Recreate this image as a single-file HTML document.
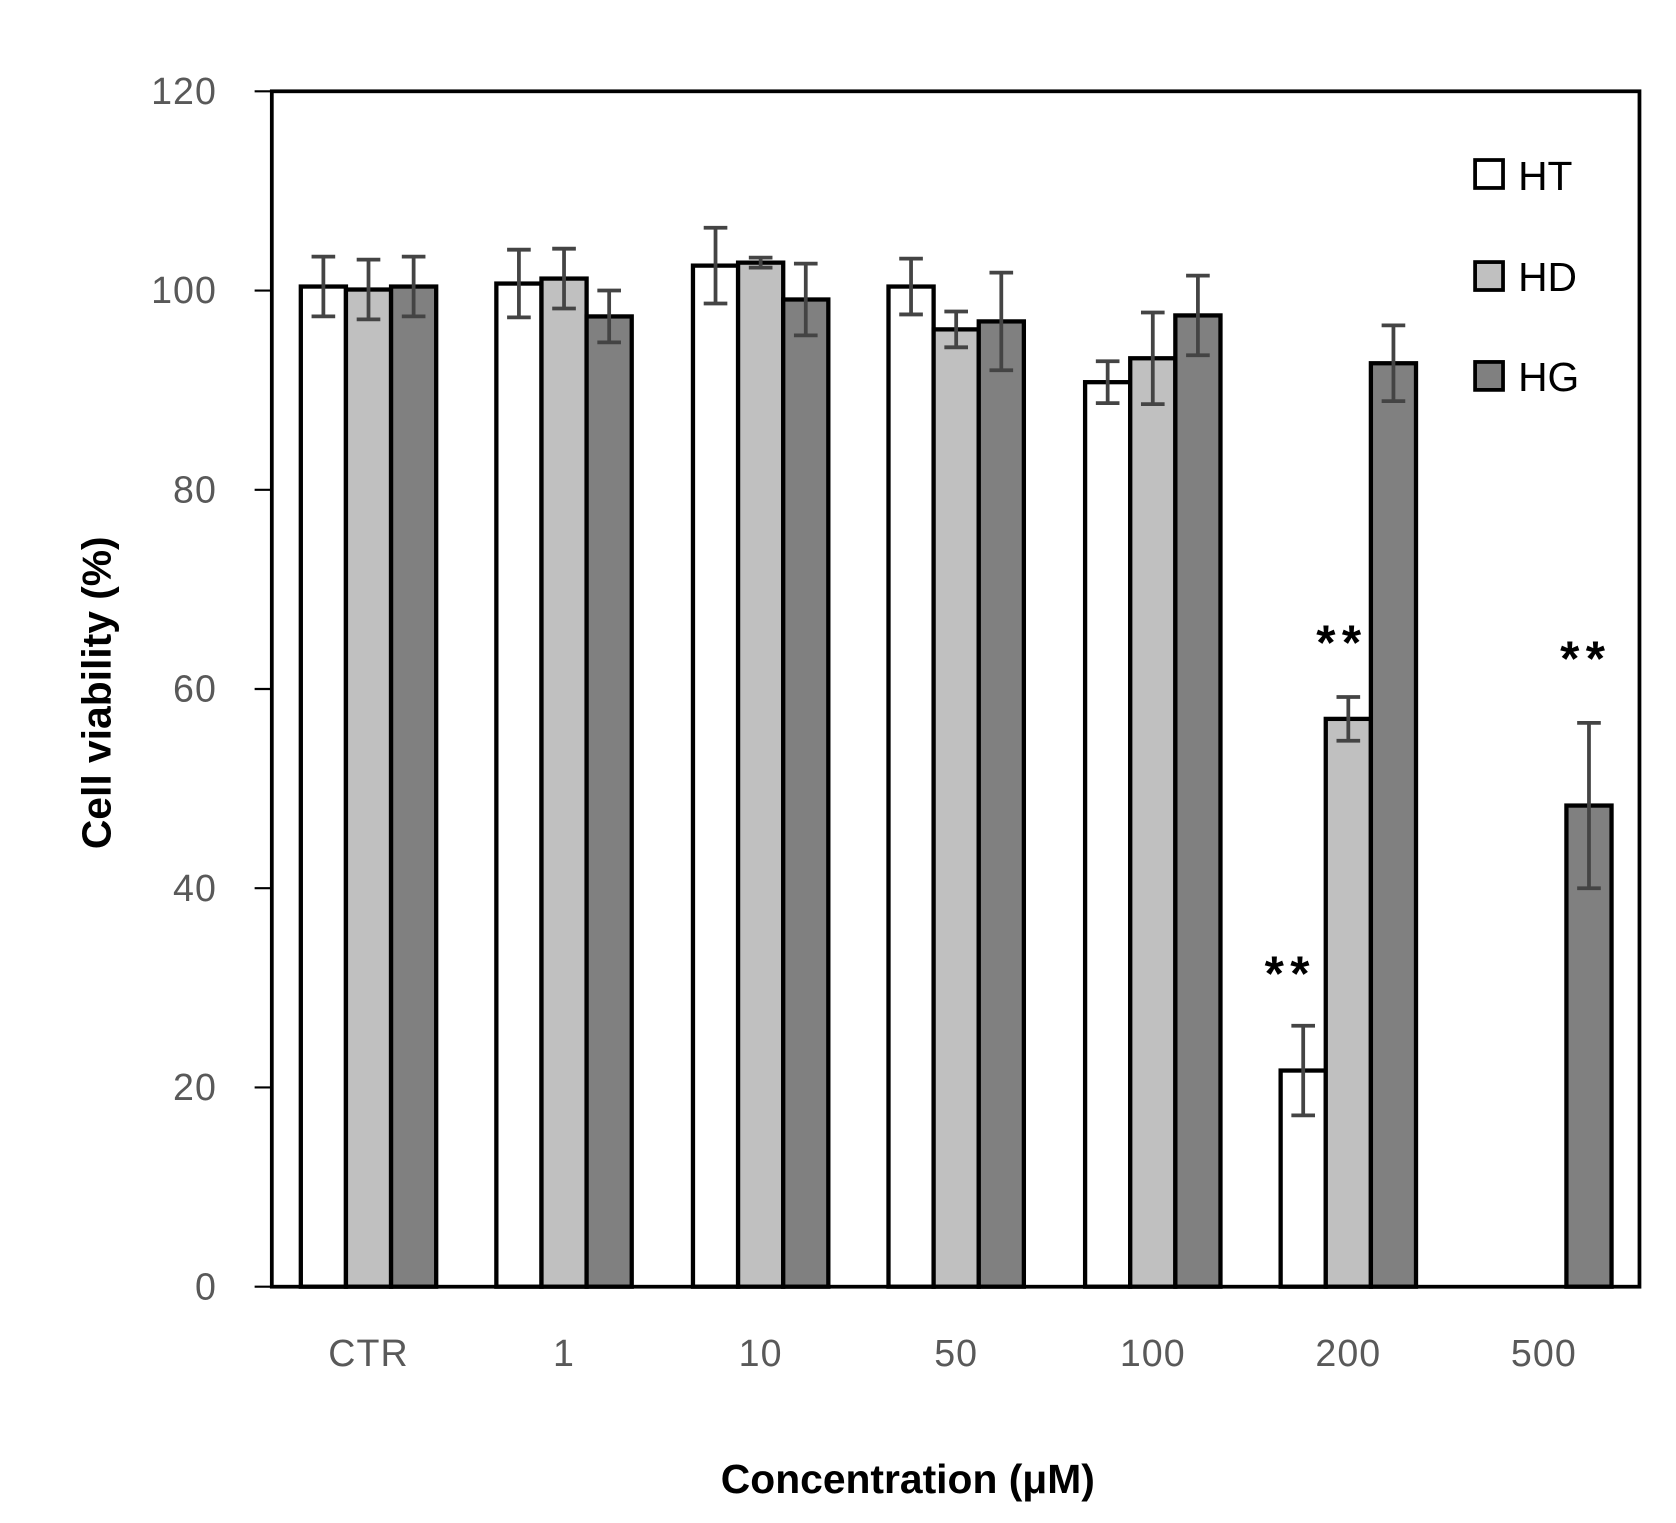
<!DOCTYPE html>
<html><head><meta charset="utf-8"><style>html,body{margin:0;padding:0;background:#fff}svg{display:block}</style></head>
<body>
<svg width="1676" height="1523" viewBox="0 0 1560 1418" preserveAspectRatio="none" xmlns="http://www.w3.org/2000/svg" font-family="Liberation Sans, sans-serif">
<rect width="1560" height="1418" fill="#fff"/>
<g id="bars" stroke="#000" stroke-width="4"></g>
<g id="errs" stroke="#444" stroke-width="3.5" fill="none"></g>
<rect x="253" y="85" width="1273" height="1113" fill="none" stroke="#000" stroke-width="3.5"/>
<g stroke="#000" stroke-width="2">
<line x1="237" y1="85" x2="253" y2="85"/><line x1="237" y1="270.5" x2="253" y2="270.5"/><line x1="237" y1="456" x2="253" y2="456"/><line x1="237" y1="641.5" x2="253" y2="641.5"/><line x1="237" y1="827" x2="253" y2="827"/><line x1="237" y1="1012.5" x2="253" y2="1012.5"/><line x1="237" y1="1198" x2="253" y2="1198"/>
</g>
<g fill="#595959" font-size="35" text-anchor="end" letter-spacing="1">
<text x="202" y="97">120</text><text x="202" y="282">100</text><text x="202" y="468">80</text><text x="202" y="653">60</text><text x="202" y="839">40</text><text x="202" y="1024">20</text><text x="202" y="1210">0</text>
</g>
<g fill="#595959" font-size="35" text-anchor="middle" letter-spacing="1">
<text x="343" y="1272">CTR</text><text x="525" y="1272">1</text><text x="708" y="1272">10</text><text x="890" y="1272">50</text><text x="1073" y="1272">100</text><text x="1255" y="1272">200</text><text x="1437" y="1272">500</text>
</g>
<text x="845" y="1390" font-size="38" font-weight="bold" text-anchor="middle">Concentration (μM)</text>
<text transform="translate(103,645) rotate(-90)" font-size="38" font-weight="bold" text-anchor="middle">Cell viability (%)</text>
<g font-size="46" font-weight="bold" text-anchor="middle" letter-spacing="6"><text x="1201" y="922">**</text><text x="1249" y="614">**</text><text x="1476" y="629">**</text></g>
<g stroke="#000" stroke-width="3.5">
<rect x="1373" y="149" width="26" height="26" fill="#fff"/><rect x="1373" y="244" width="26" height="26" fill="#c0c0c0"/><rect x="1373" y="337" width="26" height="26" fill="#808080"/>
</g>
<g font-size="38" fill="#000"><text x="1413" y="177">HT</text><text x="1413" y="271">HD</text><text x="1413" y="364">HG</text></g>
<script>
var data=[[100.4,3,100.1,3,100.4,3],[100.7,3.4,101.2,3,97.4,2.6],[102.5,3.8,102.8,0.5,99.1,3.6],[100.4,2.8,96.1,1.8,96.9,4.9],[90.8,2.1,93.2,4.6,97.5,4],[21.7,4.5,57,2.2,92.7,3.8],[null,0,null,0,48.3,8.3]];
var centers=[343,525,708,890,1073,1255,1437],fills=['#fff','#c0c0c0','#808080'],offs=[-63,-21,21];
var y=v=>1198-v*9.275,ns='http://www.w3.org/2000/svg',B=document.getElementById('bars'),E=document.getElementById('errs');
data.forEach((d,i)=>{for(var k=0;k<3;k++){var v=d[2*k],e=d[2*k+1];if(v==null)continue;var x=centers[i]+offs[k];
var r=document.createElementNS(ns,'rect');r.setAttribute('x',x);r.setAttribute('y',y(v));r.setAttribute('width',42);r.setAttribute('height',1198-y(v));r.setAttribute('fill',fills[k]);B.appendChild(r);
var cx=x+21,p=document.createElementNS(ns,'path');p.setAttribute('d','M'+(cx-11)+' '+y(v+e)+'H'+(cx+11)+'M'+cx+' '+y(v+e)+'V'+y(v-e)+'M'+(cx-11)+' '+y(v-e)+'H'+(cx+11));E.appendChild(p);}});
</script>
</svg>
</body></html>
